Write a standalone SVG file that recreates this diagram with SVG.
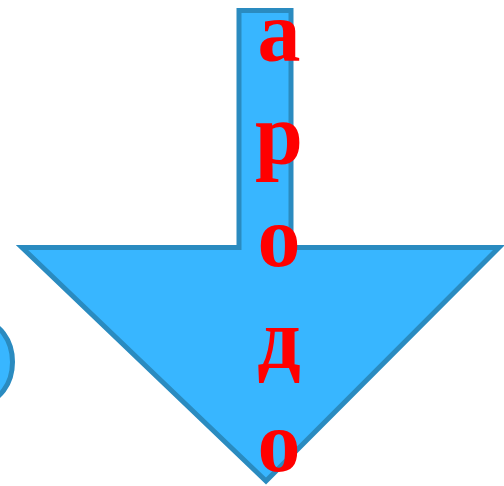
<svg xmlns="http://www.w3.org/2000/svg" width="504" height="486" viewBox="0 0 504 486">
<style>
.shape{fill:#38b6ff;stroke:#2a8bc0;stroke-width:5;stroke-linejoin:miter}
.lbl{font-family:"Liberation Serif","Times New Roman",serif;font-weight:bold;font-size:86px;fill:#ff0000;text-anchor:middle}
</style>
<rect width="504" height="486" fill="#ffffff"/>
<g id="circle-node">
<ellipse class="shape" cx="-17.5" cy="362" rx="30" ry="40"/>
</g>
<g id="arrow-node">
<path class="shape" d="M239,10.5 L291,10.5 L291,247.5 L499,247.5 L266,481 L22,247.5 L239,247.5 Z"/>
<text class="lbl" x="279" y="61">а</text>
<text class="lbl" x="279" y="163">р</text>
<text class="lbl" x="279" y="266">о</text>
<text class="lbl" x="279" y="368">д</text>
<text class="lbl" x="279" y="471">о</text>
</g>
<g id="connectors"></g>
</svg>
